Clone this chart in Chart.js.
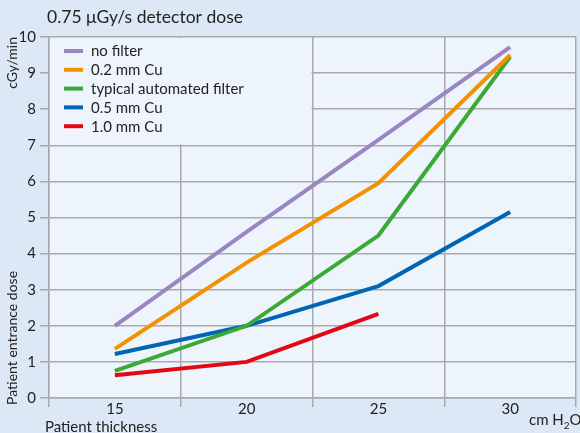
<!DOCTYPE html>
<html>
<head>
<meta charset="utf-8">
<script src="https://cdn.jsdelivr.net/npm/chart.js@4.4.1/dist/chart.umd.min.js"></script>
<style>
    body { margin: 0; background: #dce8f5; }
    #wrap { width: 580px; height: 433px; }
</style>
</head>
<body>
<div id="wrap"><canvas id="doseChart" width="580" height="433"></canvas></div>
<script>
const thickness = ["15", "20", "25", "30"];
const noFilter = [2.0, 4.6, 7.15, 9.72];
const cu02 = [1.36, 3.75, 5.95, 9.5];
const automated = [0.75, 2.0, 4.5, 9.45];
const cu05 = [1.22, 2.0, 3.1, 5.15];
const cu10 = [0.63, 1.0, 2.33, null];
const yTicks = [0, 1, 2, 3, 4, 5, 6, 7, 8, 9, 10];

const titleText = "0.75 \u03bcGy/s detector dose";
const yTitleLow = "Patient entrance dose";
const yTitleHigh = "cGy/min";
const xTitle = "Patient thickness";
const xUnit = "cm H";

const gridColor = "#a7a9ac";
const fontFamily = "Lato, 'Open Sans', sans-serif";

function series(label, data, color) {
    return {
        label: label,
        data: data,
        borderColor: color,
        backgroundColor: color,
        borderWidth: 4,
        borderCapStyle: "butt",
        pointRadius: 0,
        tension: 0,
        fill: false,
        spanGaps: false,
    };
}

const decorations = {
    id: "decorations",
    beforeDraw(chart) {
        const ctx = chart.ctx;
        const a = chart.chartArea;
        ctx.save();
        ctx.fillStyle = "#dce8f5";
        ctx.fillRect(0, 0, chart.width, chart.height);
        ctx.fillStyle = "#eef4fb";
        ctx.fillRect(a.left, a.top, a.right - a.left, a.bottom - a.top);
        ctx.restore();
    },
    beforeDatasetsDraw(chart) {
        // legend box hides the grid behind it
        const ctx = chart.ctx;
        const a = chart.chartArea;
        const x = chart.scales.x;
        const y = chart.scales.y;
        const boxRight = (x.getPixelForValue(1) + x.getPixelForValue(2)) / 2;
        const boxBottom = y.getPixelForValue(7);
        ctx.save();
        ctx.fillStyle = "#eef4fb";
        ctx.fillRect(a.left + 1, a.top + 1, boxRight - a.left - 2, boxBottom - a.top - 2);

        ctx.font = "15px " + fontFamily;
        ctx.textBaseline = "middle";
        ctx.fillStyle = "#222";
        chart.data.datasets.forEach((ds, i) => {
            const ly = 51 + i * 18.8;
            ctx.strokeStyle = ds.borderColor;
            ctx.lineWidth = 4;
            ctx.beginPath();
            ctx.moveTo(64, ly);
            ctx.lineTo(83, ly);
            ctx.stroke();
            ctx.fillText(ds.label, 91, ly + 0.5);
        });
        ctx.restore();
    },
    afterDraw(chart) {
        const ctx = chart.ctx;
        ctx.save();
        ctx.fillStyle = "#222";
        ctx.font = "17.5px " + fontFamily;
        ctx.textBaseline = "alphabetic";
        ctx.textAlign = "left";
        ctx.fillText(titleText, 47, 23);

        ctx.font = "15px " + fontFamily;
        ctx.fillText(xTitle, 45, 432);
        const w = ctx.measureText(xUnit).width;
        ctx.fillText(xUnit, 529, 425);
        ctx.font = "10px " + fontFamily;
        ctx.fillText("2", 529 + w, 429);
        const w2 = ctx.measureText("2").width;
        ctx.font = "15px " + fontFamily;
        ctx.fillText("O", 529 + w + w2, 425);

        ctx.font = "14px " + fontFamily;
        ctx.translate(17, 0);
        ctx.rotate(-Math.PI / 2);
        ctx.textAlign = "right";
        ctx.fillText(yTitleHigh, -37, 0);
        ctx.textAlign = "left";
        ctx.fillText(yTitleLow, -405, 0);
        ctx.restore();
    },
};

const ctx = document.getElementById("doseChart").getContext("2d");
new Chart(ctx, {
    type: "line",
    data: {
        labels: thickness,
        datasets: [
            series("no filter", noFilter, "#9a86c2"),
            series("0.2 mm Cu", cu02, "#f39200"),
            series("typical automated filter", automated, "#3aa935"),
            series("0.5 mm Cu", cu05, "#0066b3"),
            series("1.0 mm Cu", cu10, "#e30613"),
        ],
    },
    options: {
        responsive: false,
        animation: false,
        layout: { padding: { top: 37, right: 4, left: 0, bottom: 0 } },
        plugins: {
            legend: { display: false },
            title: { display: false },
            tooltip: { enabled: false },
        },
        scales: {
            x: {
                type: "category",
                offset: true,
                grid: {
                    offset: true,
                    color: gridColor,
                    lineWidth: 1.5,
                    tickLength: 9,
                    drawTicks: true,
                },
                border: { color: gridColor, width: 1.5 },
                ticks: {
                    color: "#222",
                    font: { family: fontFamily, size: 15 },
                    padding: -7,
                    maxRotation: 0,
                },
                afterFit(scale) { scale.height = 35; },
            },
            y: {
                min: 0,
                max: 10,
                afterBuildTicks(scale) {
                    scale.ticks = yTicks.map((v) => ({ value: v }));
                },
                grid: {
                    color: gridColor,
                    lineWidth: 1.5,
                    tickLength: 9,
                },
                border: { color: gridColor, width: 1.5 },
                ticks: {
                    color: "#222",
                    font: { family: fontFamily, size: 15 },
                    padding: 4,
                },
                afterFit(scale) { scale.width = 49; },
            },
        },
    },
    plugins: [decorations],
});
</script>
</body>
</html>
